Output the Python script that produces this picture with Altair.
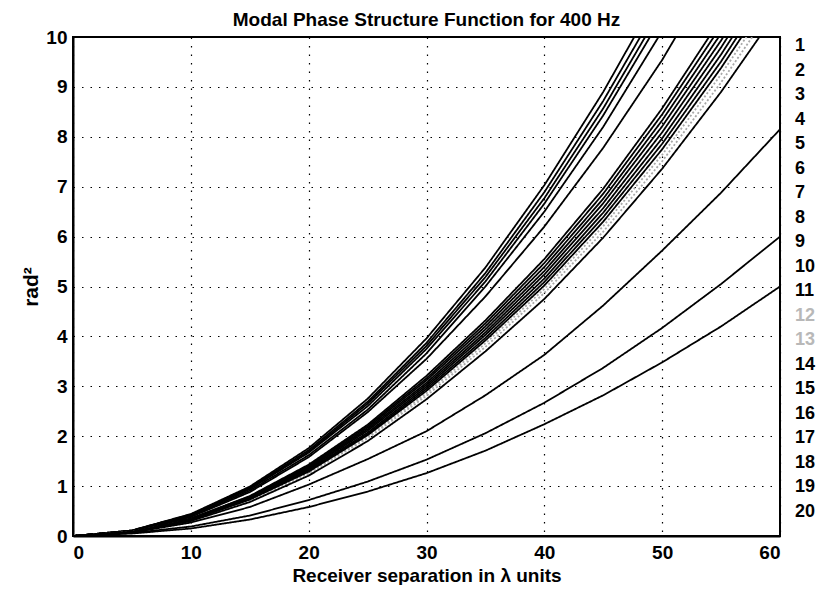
import altair as alt
import pandas as pd

# separation in wavelengths (sample points)
x_sep = [0, 5, 10, 15, 20, 25, 30, 35, 40, 45, 50, 55, 60]
modes = list(range(1, 21))
mode_labels = [str(m) for m in modes]

# phase structure function (rad^2) per mode
mode_01 = [0, 0.11, 0.44, 0.99, 1.76, 2.75, 3.96, 5.38, 7.03, 8.90, 10.99]
mode_02 = [0, 0.11, 0.43, 0.97, 1.72, 2.69, 3.87, 5.27, 6.89, 8.72, 10.76]
mode_03 = [0, 0.11, 0.42, 0.95, 1.69, 2.65, 3.81, 5.19, 6.77, 8.57, 10.58]
mode_04 = [0, 0.10, 0.42, 0.94, 1.67, 2.60, 3.75, 5.10, 6.66, 8.43, 10.41]
mode_05 = [0, 0.10, 0.40, 0.91, 1.62, 2.53, 3.66, 5.00, 6.50, 8.20, 10.12]
mode_06 = [0, 0.10, 0.38, 0.88, 1.58, 2.48, 3.55, 4.80, 6.20, 7.78, 9.54, 11.54]
mode_07 = [0, 0.09, 0.35, 0.80, 1.43, 2.23, 3.21, 4.32, 5.55, 6.96, 8.57, 10.37]
mode_08 = [0, 0.08, 0.35, 0.79, 1.41, 2.20, 3.16, 4.26, 5.47, 6.86, 8.45, 10.22]
mode_09 = [0, 0.08, 0.34, 0.78, 1.39, 2.17, 3.12, 4.20, 5.39, 6.76, 8.33, 10.07]
mode_10 = [0, 0.08, 0.34, 0.77, 1.37, 2.14, 3.07, 4.14, 5.31, 6.67, 8.21, 9.93, 11.82]
mode_11 = [0, 0.08, 0.33, 0.76, 1.35, 2.11, 3.03, 4.08, 5.24, 6.57, 8.09, 9.79, 11.65]
mode_12 = [0, 0.08, 0.32, 0.72, 1.27, 1.99, 2.86, 3.86, 4.95, 6.21, 7.64, 9.25, 11.00]
mode_13 = [0, 0.08, 0.31, 0.70, 1.25, 1.96, 2.81, 3.79, 4.87, 6.10, 7.51, 9.09, 10.81]
mode_14 = [0, 0.08, 0.33, 0.75, 1.33, 2.07, 2.99, 4.03, 5.16, 6.48, 7.97, 9.65, 11.48]
mode_15 = [0, 0.08, 0.32, 0.74, 1.31, 2.04, 2.95, 3.97, 5.09, 6.39, 7.86, 9.51, 11.32]
mode_16 = [0, 0.08, 0.32, 0.73, 1.29, 2.02, 2.91, 3.92, 5.02, 6.30, 7.75, 9.38, 11.16]
mode_17 = [0, 0.07, 0.30, 0.68, 1.21, 1.90, 2.74, 3.70, 4.75, 5.98, 7.36, 8.90, 10.59]
mode_18 = [0, 0.07, 0.27, 0.58, 1.03, 1.54, 2.10, 2.82, 3.63, 4.62, 5.72, 6.88, 8.15]
mode_19 = [0, 0.06, 0.19, 0.41, 0.72, 1.09, 1.53, 2.06, 2.67, 3.37, 4.17, 5.05, 6.00]
mode_20 = [0, 0.05, 0.15, 0.33, 0.58, 0.89, 1.26, 1.71, 2.24, 2.82, 3.48, 4.20, 5.00]

curves = [mode_01, mode_02, mode_03, mode_04, mode_05, mode_06, mode_07,
          mode_08, mode_09, mode_10, mode_11, mode_12, mode_13, mode_14,
          mode_15, mode_16, mode_17, mode_18, mode_19, mode_20]

faded_modes = ["12", "13"]

rows = []
for m, ys in zip(mode_labels, curves):
    for xv, yv in zip(x_sep, ys):
        rows.append({"mode": m, "sep": xv, "val": yv})
df = pd.DataFrame(rows)

line_colors = ["#a8a8a8" if m in faded_modes else "black" for m in mode_labels]
line_dash = [[2, 2] if m in faded_modes else [1, 0] for m in mode_labels]

FONT = "Liberation Sans"

lines = alt.Chart(df).mark_line(clip=True, strokeWidth=1.8).encode(
    x=alt.X("sep:Q", scale=alt.Scale(domain=[0, 60], nice=False),
            axis=alt.Axis(values=[0, 10, 20, 30, 40, 50, 60],
                          title="Receiver separation in λ units")),
    y=alt.Y("val:Q", scale=alt.Scale(domain=[0, 10], nice=False),
            axis=alt.Axis(values=list(range(0, 11)), title="rad²")),
    color=alt.Color("mode:N", sort=mode_labels,
                    scale=alt.Scale(domain=mode_labels, range=line_colors),
                    legend=alt.Legend(
                        title=None, orient="right", offset=-3,
                        symbolOpacity=0, symbolSize=0, labelOffset=0,
                        labelFontSize=18, labelFont=FONT, labelFontWeight="bold",
                        rowPadding=6.5, padding=0,
                        labelColor=alt.ExprRef(
                            "indexof(['12','13'], datum.label) >= 0 ? '#b8b8b8' : 'black'"))),
    strokeDash=alt.StrokeDash("mode:N", sort=mode_labels,
                              scale=alt.Scale(domain=mode_labels, range=line_dash),
                              legend=None),
    detail="mode:N",
)

chart = lines.properties(
    width=707, height=499,
    autosize=alt.AutoSizeParams(type="none"),
    padding={"left": 65, "top": 29, "right": 41, "bottom": 49},
    background="white",
    title=alt.TitleParams("Modal Phase Structure Function for 400 Hz",
                          font=FONT, fontSize=19, fontWeight="bold",
                          offset=-2, color="black"),
).configure_view(
    stroke="black", strokeWidth=2
).configure_axis(
    labelFont=FONT, labelFontSize=19, labelFontWeight="bold", labelColor="black",
    titleFont=FONT, titleFontSize=19, titleFontWeight="bold", titleColor="black",
    domainColor="black", domainWidth=2, tickSize=0,
    grid=True, gridColor="black", gridWidth=1.2, gridDash=[1.5, 7], gridOpacity=1,
).configure_axisX(
    labelPadding=7, titlePadding=4
).configure_axisY(
    labelPadding=6, titlePadding=4, titleFontSize=21
)

chart.save("out.html", embed_options={"renderer": "svg", "actions": False})
